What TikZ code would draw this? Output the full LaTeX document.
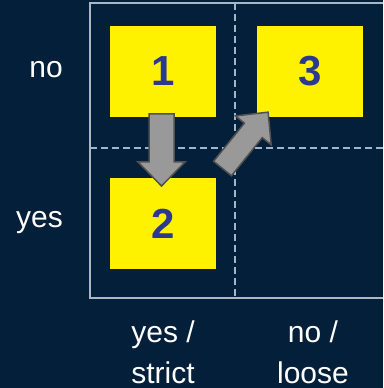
\documentclass[tikz,border=0pt]{standalone}
\usepackage{fontspec}
\setmainfont{Liberation Sans}
\definecolor{bg}{RGB}{3,31,58}
\definecolor{framecol}{RGB}{170,184,198}
\definecolor{dashcol}{RGB}{160,182,204}
\definecolor{digit}{RGB}{43,57,144}
\definecolor{arrfill}{RGB}{153,153,153}
\definecolor{arrline}{RGB}{80,80,80}
\tikzset{
  box/.style={fill=yellow, minimum width=106pt, minimum height=91pt, inner sep=0pt,
    text=digit, font=\fontsize{42}{42}\selectfont\bfseries},
  lab/.style={text=white, font=\fontsize{30}{40}\selectfont, inner sep=0pt},
  gridline/.style={draw=dashcol, line width=1.4pt, dash pattern=on 7pt off 4pt},
  blockarr/.style={fill=arrfill, draw=arrline, line width=1.5pt, line join=miter}
}
\begin{document}
\begin{tikzpicture}[x=1pt,y=1pt]
\fill[bg] (0,0) rectangle (383,388);
\useasboundingbox (0,0) rectangle (383,388);
\begin{scope}
\clip (0,0) rectangle (383,388);
\draw[framecol, line width=1.5pt] (90,90) rectangle (392,385);
\coordinate (vt) at (235,385);
\coordinate (vb) at (235,90);
\coordinate (hl) at (90,240);
\coordinate (hr) at (392,240);
\draw[gridline] (vt) -- (vb);
\draw[gridline] (hl) -- (hr);
\end{scope}
\node[box] (b1) at (163,316.5) {1};
\node[box] (b3) at (310,316.5) {3};
\node[box] (b2) at (163,164) {2};
% block arrows
\coordinate (a1) at (161.5,274);
\coordinate (a2) at (222.5,219.5);
\begin{scope}[shift={(a1)}, rotate=-90]
\draw[blockarr] (0,-12.5) -- (48,-12.5) -- (48,-23.5) -- (72,0) -- (48,23.5) -- (48,12.5) -- (0,12.5) -- cycle;
\end{scope}
\begin{scope}[shift={(a2)}, rotate=51]
\draw[blockarr] (0,-11.5) -- (49,-11.5) -- (49,-23) -- (72.5,0) -- (49,23) -- (49,11.5) -- (0,11.5) -- cycle;
\end{scope}
% labels
\node[lab, anchor=base east] (lno) at (63,310) {no};
\node[lab, anchor=base east] (lyes) at (63,160) {yes};
\node[lab, anchor=base] (c1a) at (163,45) {yes /};
\node[lab, anchor=base] (c1b) at (163,5) {strict};
\node[lab, anchor=base] (c2a) at (313,45) {no /};
\node[lab, anchor=base] (c2b) at (313,5) {loose};
\end{tikzpicture}
\end{document}
